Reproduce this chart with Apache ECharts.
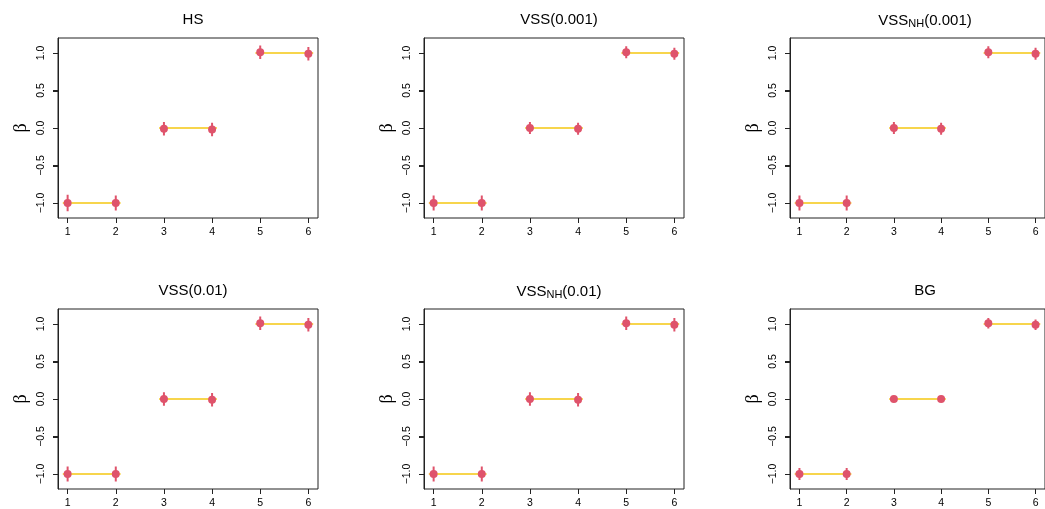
<!DOCTYPE html>
<html>
<head>
<meta charset="utf-8">
<script src="https://cdn.jsdelivr.net/npm/echarts@6/dist/echarts.min.js"></script>
<style>html,body{margin:0;padding:0;background:#fff}#c{width:1045px;height:509px}</style>
</head>
<body>
<div id="c"></div>
<script>
// ---- data ----
var categories = [1, 2, 3, 4, 5, 6];
var trueValues = [-1, -1, 0, 0, 1, 1];
var xTicks = [1, 2, 3, 4, 5, 6];
var yTicks = [-1.0, -0.5, 0.0, 0.5, 1.0];
var panelTitles = ['HS', 'VSS(0.001)', 'VSS_NH(0.001)', 'VSS(0.01)', 'VSS_NH(0.01)', 'BG'];

var estHS      = [-1.00, -1.00, -0.01, -0.02, 1.01, 0.99];
var errHS      = [0.11, 0.10, 0.09, 0.09, 0.09, 0.09];
var estVSS001a = [-1.00, -1.00, 0.00, -0.01, 1.01, 0.99];
var errVSS001a = [0.10, 0.10, 0.08, 0.08, 0.08, 0.08];
var estVSSNH001a = [-1.00, -1.00, 0.00, -0.01, 1.01, 0.99];
var errVSSNH001a = [0.10, 0.10, 0.08, 0.08, 0.08, 0.08];
var estVSS01   = [-1.00, -1.00, 0.00, -0.01, 1.01, 0.99];
var errVSS01   = [0.10, 0.10, 0.09, 0.09, 0.09, 0.09];
var estVSSNH01 = [-1.00, -1.00, 0.00, -0.01, 1.01, 0.99];
var errVSSNH01 = [0.10, 0.10, 0.09, 0.09, 0.09, 0.09];
var estBG      = [-1.00, -1.00, 0.00, 0.00, 1.01, 0.99];
var errBG      = [0.08, 0.08, 0.00, 0.00, 0.07, 0.07];

var panelEst = [estHS, estVSS001a, estVSSNH001a, estVSS01, estVSSNH01, estBG];
var panelErr = [errHS, errVSS001a, errVSSNH001a, errVSS01, errVSSNH01, errBG];

// ---- layout ----
var RED = '#DF536B', YEL = '#F5C710';
var colLeft = [58, 424, 790], rowTop = [38, 309];
var W = 260, H = 180;
var X_MIN = 0.8, X_MAX = 6.2, Y_MIN = -1.2, Y_MAX = 1.2;
var FONT = '"Liberation Sans", Arial, Helvetica, sans-serif';

var grids = [], xAxes = [], yAxes = [], series = [], titles = [];

function titleText(t) {
  var m = t.match(/^(\w+)_(\w+)(.*)$/);
  if (m) return '{a|' + m[1] + '}{b|' + m[2] + '}{a|' + m[3] + '}';
  return '{a|' + t + '}';
}

for (var p = 0; p < 6; p++) {
  var r = Math.floor(p / 3), c = p % 3;
  var L = colLeft[c], T = rowTop[r];
  grids.push({left: L, top: T, width: W, height: H, show: true,
    borderColor: '#222', borderWidth: 1, backgroundColor: 'transparent', containLabel: false});
  xAxes.push({type: 'value', gridIndex: p, min: X_MIN, max: X_MAX, position: 'bottom',
    axisLine: {show: false, onZero: false},
    splitLine: {show: false},
    axisTick: {show: true, length: 5, inside: false, customValues: xTicks, lineStyle: {color: '#222'}},
    axisLabel: {show: true, customValues: xTicks, margin: 9, fontSize: 10.5, color: '#000', fontFamily: FONT}
  });
  yAxes.push({type: 'value', gridIndex: p, min: Y_MIN, max: Y_MAX, position: 'left',
    name: 'β', nameLocation: 'middle', nameGap: 28, nameRotate: 90,
    nameTextStyle: {fontSize: 18, color: '#000', fontFamily: '"Liberation Serif", "DejaVu Serif", serif'},
    axisLine: {show: true, onZero: false, lineStyle: {color: '#222', width: 1}},
    splitLine: {show: false},
    axisTick: {show: true, length: 5, inside: false, customValues: yTicks, lineStyle: {color: '#222'}},
    axisLabel: {show: true, customValues: yTicks, rotate: 90, margin: 11, fontSize: 10.5, color: '#000', fontFamily: FONT,
      formatter: function (v) { return (v < 0 ? '\u2212' : '') + Math.abs(v).toFixed(1); }}
  });
  titles.push({text: titleText(panelTitles[p]), left: L + W / 2, top: T - 31, textAlign: 'center',
    textStyle: {rich: {
      a: {fontSize: 15, fontFamily: FONT, color: '#000', fontWeight: 'normal'},
      b: {fontSize: 11, fontFamily: FONT, color: '#000', fontWeight: 'normal', padding: [6, 0, 0, 0]}
    }}});

  // true-value segments between pairs
  var segData = [];
  for (var k = 0; k < categories.length; k += 2) {
    segData.push([categories[k], categories[k + 1], trueValues[k]]);
  }
  series.push({type: 'custom', xAxisIndex: p, yAxisIndex: p, silent: true, z: 1,
    data: segData,
    renderItem: function (params, api) {
      var a = api.coord([api.value(0) - 0.1, api.value(2)]);
      var b = api.coord([api.value(1) + 0.1, api.value(2)]);
      return {type: 'line', shape: {x1: a[0], y1: a[1], x2: b[0], y2: b[1]},
        style: {stroke: YEL, lineWidth: 1.3}};
    }
  });
  // error bars
  var est = panelEst[p], err = panelErr[p];
  var ebData = categories.map(function (x, i) { return [x, est[i] - err[i], est[i] + err[i]]; });
  series.push({type: 'custom', xAxisIndex: p, yAxisIndex: p, silent: true, z: 2,
    data: ebData,
    renderItem: function (params, api) {
      var a = api.coord([api.value(0), api.value(1)]);
      var b = api.coord([api.value(0), api.value(2)]);
      return {type: 'line', shape: {x1: a[0], y1: a[1], x2: b[0], y2: b[1]},
        style: {stroke: RED, lineWidth: 2}};
    }
  });
  // point estimates
  series.push({type: 'scatter', xAxisIndex: p, yAxisIndex: p, z: 3, silent: true,
    symbol: 'circle', symbolSize: 8, itemStyle: {color: RED, opacity: 1},
    data: categories.map(function (x, i) { return [x, est[i]]; })
  });
}

var chart = echarts.init(document.getElementById('c'), null, {renderer: 'canvas'});
chart.setOption({animation: false, backgroundColor: '#fff', title: titles,
  grid: grids, xAxis: xAxes, yAxis: yAxes, series: series});

// y-axis tick marks, positioned through the library's own scales
var tickEls = [];
for (var q = 0; q < 6; q++) {
  yTicks.forEach(function (v) {
    var pt = chart.convertToPixel({xAxisIndex: q, yAxisIndex: q}, [X_MIN, v]);
    var y = Math.round(pt[1]) + 0.5;
    var x = Math.round(pt[0]);
    tickEls.push({type: 'line', silent: true, z: 10,
      shape: {x1: x - 5, y1: y, x2: x, y2: y},
      style: {stroke: '#222', lineWidth: 1}});
  });
}
chart.setOption({graphic: {elements: tickEls}});
</script>
</body>
</html>
